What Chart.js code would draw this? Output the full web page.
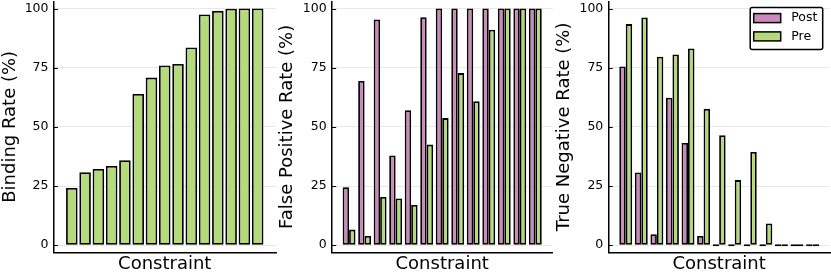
<!DOCTYPE html>
<html>
<head>
<meta charset="utf-8">
<script src="https://cdn.jsdelivr.net/npm/chart.js@4.4.1/dist/chart.umd.min.js"></script>
<style>
    body { margin: 0; background: #fff; }
    .wrap { position: relative; width: 831px; height: 277px; }
    .panel { position: absolute; top: 0; width: 277px; height: 277px; }
</style>
</head>
<body>
<div class="wrap">
    <div class="panel" style="left:0"><canvas id="bindingChart" width="277" height="277"></canvas></div>
    <div class="panel" style="left:277px"><canvas id="fprChart" width="277" height="277"></canvas></div>
    <div class="panel" style="left:554px"><canvas id="tnrChart" width="277" height="277"></canvas></div>
</div>
<script>
// Datos
const bindingConstraints = [1, 2, 3, 4, 5, 6, 7, 8, 9, 10, 11, 12, 13, 14, 15];
const bindingRate = [24.2, 30.8, 32.2, 33.5, 35.9, 63.9, 70.8, 75.9, 76.6, 83.5, 97.5, 99.0, 99.9, 100, 100];

const groupConstraints = [1, 2, 3, 4, 5, 6, 7, 8, 9, 10, 11, 12, 13];
const fprPost = [24.5, 69.4, 95.4, 37.9, 57.0, 96.3, 100, 100, 100, 100, 100, 100, 100];
const fprPre = [6.6, 3.9, 20.4, 19.7, 17.0, 42.5, 53.7, 72.7, 60.8, 91.0, 100, 100, 100];
const tnrPost = [75.5, 30.7, 4.6, 62.3, 43.2, 3.9, 0, 0, 0, 0, 0, 0, 0];
const tnrPre = [93.4, 96.2, 79.6, 80.6, 83.1, 57.6, 46.5, 27.5, 39.4, 9.2, 0, 0, 0];

const yTicks = [0, 25, 50, 75, 100];
const seriesNames = ['Post', 'Pre'];

const PINK = '#cc88bb';
const GREEN = '#b5da7c';

Chart.defaults.font.family = "'DejaVu Sans', sans-serif";
Chart.defaults.color = '#000';

// marcas cortas hacia dentro en el eje y
const innerTicks = {
    id: 'innerTicks',
    afterDraw(chart) {
        const ctx = chart.ctx;
        const ys = chart.scales.y;
        const left = chart.chartArea.left;
        ctx.save();
        ctx.strokeStyle = '#000';
        ctx.lineWidth = 1;
        ys.ticks.forEach(t => {
            const py = Math.round(ys.getPixelForValue(t.value)) + 0.5;
            ctx.beginPath();
            ctx.moveTo(left, py);
            ctx.lineTo(left + 4.5, py);
            ctx.stroke();
        });
        ctx.restore();
    }
};

// leyenda con marco, arriba a la derecha
const boxedLegend = {
    id: 'boxedLegend',
    afterDraw(chart) {
        const ctx = chart.ctx;
        const area = chart.chartArea;
        const w = 72.5, h = 42;
        const x = area.right - 7.3 - w;
        const y = area.top + 6;
        ctx.save();
        ctx.fillStyle = '#fff';
        ctx.strokeStyle = '#000';
        ctx.lineWidth = 1.5;
        ctx.beginPath();
        if (ctx.roundRect) ctx.roundRect(x, y, w, h, 2); else ctx.rect(x, y, w, h);
        ctx.fill();
        ctx.stroke();
        ctx.font = "12.5px 'DejaVu Sans'";
        ctx.textBaseline = 'middle';
        chart.data.datasets.forEach((ds, i) => {
            const cy = y + 10.7 + i * 18.3;
            ctx.fillStyle = ds.backgroundColor;
            ctx.fillRect(x + 3.5, cy - 4.5, 27, 9);
            ctx.lineWidth = 1.5;
            ctx.strokeRect(x + 3.5, cy - 4.5, 27, 9);
            ctx.fillStyle = '#000';
            ctx.fillText(ds.label, x + 41, cy);
        });
        ctx.restore();
    }
};

function makePanel(id, yTitle, xs, datasets, xMin, xMax, axisWidth, rightPad, catPct, legend) {
    const plugins = [innerTicks];
    if (legend) plugins.push(boxedLegend);
    new Chart(document.getElementById(id), {
        type: 'bar',
        data: { datasets: datasets },
        plugins: plugins,
        options: {
            responsive: false,
            animation: false,
            events: [],
            layout: { padding: { top: 1.4, right: rightPad, left: 0, bottom: 0 } },
            datasets: { bar: { categoryPercentage: catPct, barPercentage: 1 } },
            scales: {
                x: {
                    type: 'linear',
                    offset: false,
                    min: xMin,
                    max: xMax,
                    afterBuildTicks: ax => { ax.ticks = xs.map(v => ({ value: v })); },
                    afterFit: ax => { ax.height = 24.7; ax.paddingLeft = 0; ax.paddingRight = 0; },
                    ticks: { display: false },
                    grid: { display: false, offset: false },
                    border: { color: '#000', width: 1.5 },
                    title: { display: true, text: 'Constraint', font: { size: 18 }, padding: { top: 0, bottom: 2 } }
                },
                y: {
                    min: -3,
                    max: 103,
                    afterBuildTicks: ax => { ax.ticks = yTicks.map(v => ({ value: v })); },
                    afterFit: ax => { ax.width = axisWidth; ax.paddingTop = 0; ax.paddingBottom = 0; },
                    ticks: { font: { size: 12.5 }, padding: 5 },
                    grid: { color: '#e8e8e8', lineWidth: 1, drawTicks: false },
                    border: { color: '#000', width: 1.5 },
                    title: { display: true, text: yTitle, font: { size: 18, lineHeight: 1.1 }, padding: 0 }
                }
            },
            plugins: { legend: { display: false }, tooltip: { enabled: false } }
        }
    });
}

function barSet(label, xs, values, color) {
    return {
        label: label,
        data: xs.map((x, i) => ({ x: x, y: values[i] })),
        backgroundColor: color,
        borderColor: '#000',
        borderWidth: 1.8,
        borderSkipped: false,
        minBarLength: 2
    };
}

makePanel('bindingChart', 'Binding Rate (%)', bindingConstraints,
    [barSet('Pre', bindingConstraints, bindingRate, GREEN)],
    -0.38, 16.38, 53.5, 1, 0.87, false);

makePanel('fprChart', 'False Positive Rate (%)', groupConstraints,
    [barSet(seriesNames[0], groupConstraints, fprPost, PINK),
     barSet(seriesNames[1], groupConstraints, fprPre, GREEN)],
    -0.12, 14.12, 54.7, 1.3, 0.83, false);

makePanel('tnrChart', 'True Negative Rate (%)', groupConstraints,
    [barSet(seriesNames[0], groupConstraints, tnrPost, PINK),
     barSet(seriesNames[1], groupConstraints, tnrPre, GREEN)],
    -0.12, 14.12, 54.3, 1, 0.83, true);
</script>
</body>
</html>
